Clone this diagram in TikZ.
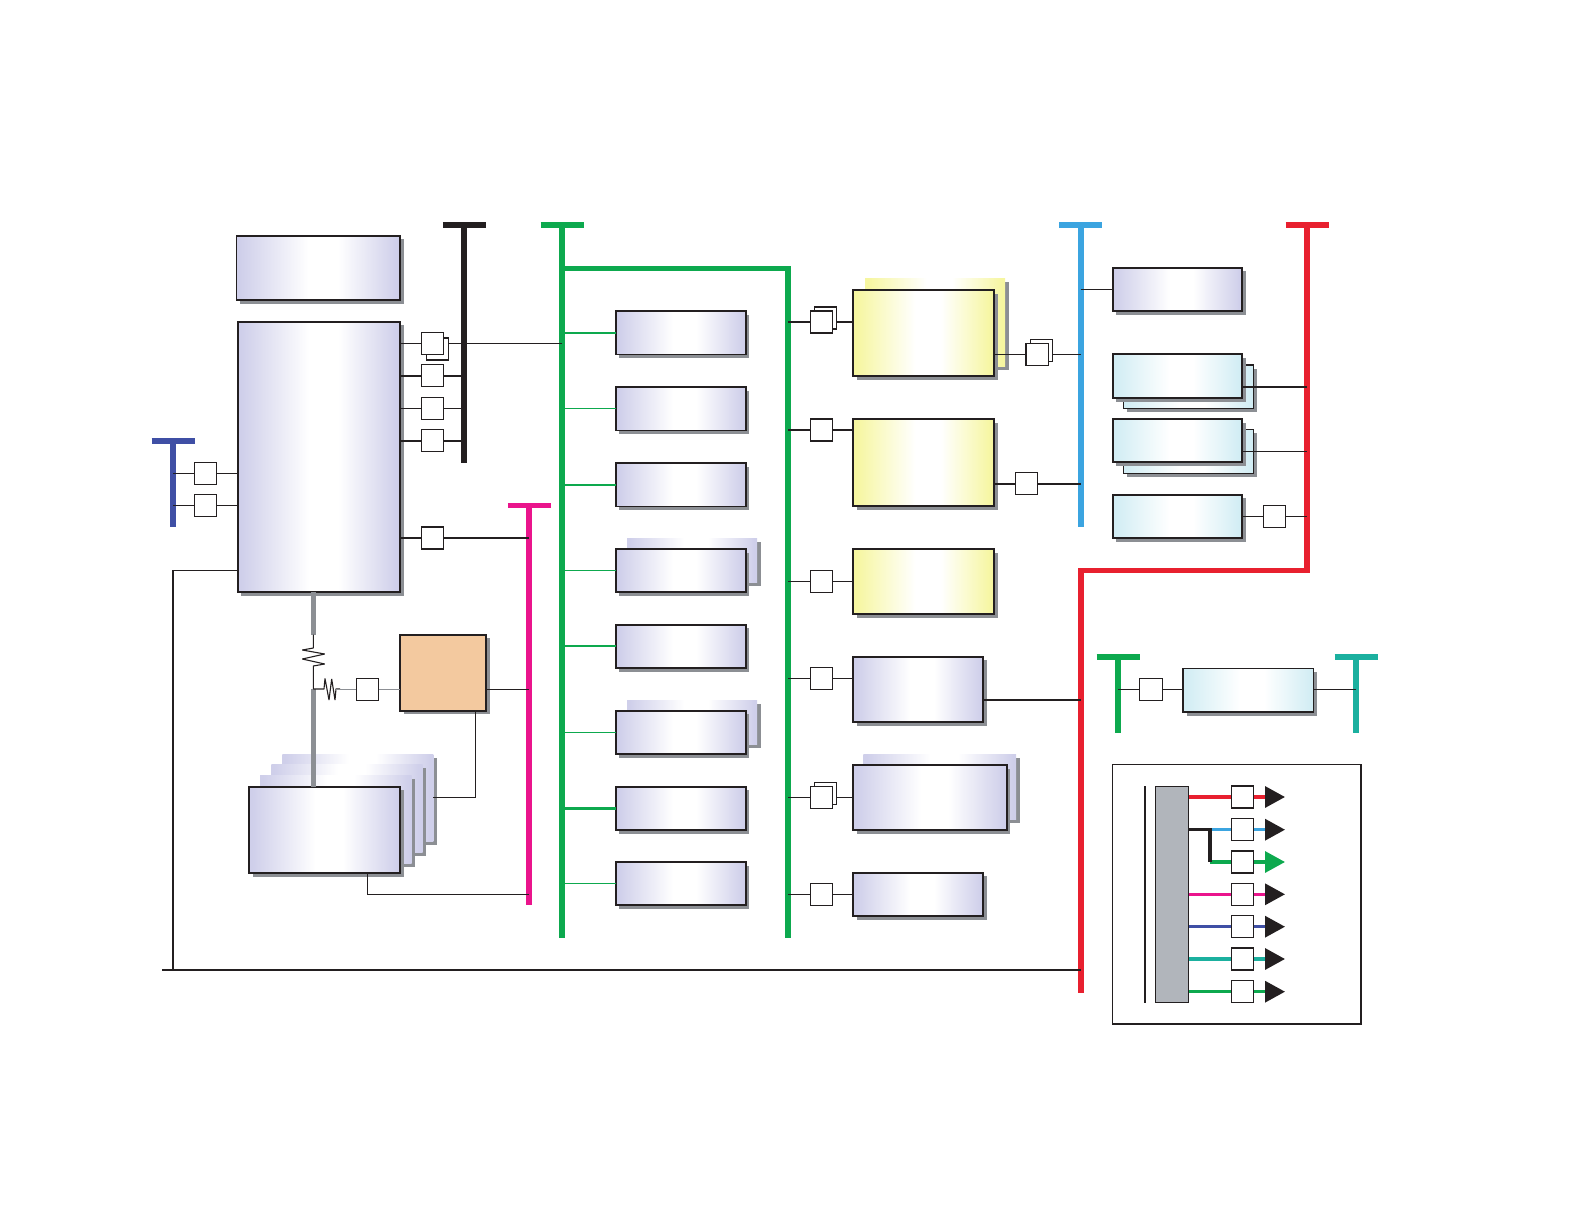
\documentclass[tikz,border=0pt]{standalone}
\usetikzlibrary{arrows.meta}
\definecolor{peri}{HTML}{CFCFEA}
\definecolor{yel}{HTML}{F6F6A0}
\definecolor{cya}{HTML}{D2EDF4}
\definecolor{org}{HTML}{F3C99F}
\definecolor{shc}{HTML}{8C8F94}
\definecolor{ink}{HTML}{231F20}
\definecolor{cred}{HTML}{E8202F}
\definecolor{cgrn}{HTML}{0DA94E}
\definecolor{cblu}{HTML}{3BA4E0}
\definecolor{cmag}{HTML}{EA148C}
\definecolor{cind}{HTML}{3F4FA5}
\definecolor{cteal}{HTML}{1BB09F}
\definecolor{wire}{HTML}{8C8F94}
\definecolor{gbox}{HTML}{B1B5BB}
\pgfdeclarehorizontalshading{periShade}{100bp}{color(0bp)=(peri);color(26bp)=(peri);color(47bp)=(white);color(56bp)=(white);color(74bp)=(peri);color(100bp)=(peri)}
\pgfdeclarehorizontalshading{yelShade}{100bp}{color(0bp)=(yel);color(26bp)=(yel);color(47bp)=(white);color(56bp)=(white);color(74bp)=(yel);color(100bp)=(yel)}
\pgfdeclarehorizontalshading{cyaShade}{100bp}{color(0bp)=(cya);color(26bp)=(cya);color(47bp)=(white);color(56bp)=(white);color(74bp)=(cya);color(100bp)=(cya)}
\tikzset{
  boxbase/.style={inner sep=0pt,outer sep=0pt,rectangle},
  pfront/.style={boxbase,shade,shading=periShade,draw=ink,line width=1.8pt},
  yfront/.style={boxbase,shade,shading=yelShade,draw=ink,line width=1.8pt},
  cfront/.style={boxbase,shade,shading=cyaShade,draw=ink,line width=1.8pt},
  ofront/.style={boxbase,fill=org,draw=ink,line width=1.8pt},
  pback/.style={boxbase,shade,shading=periShade},
  yback/.style={boxbase,shade,shading=yelShade},
  cback/.style={boxbase,shade,shading=cyaShade,draw=ink,line width=1.2pt},
  sbox/.style={boxbase,fill=white,draw=ink,line width=1.2pt,minimum width=22.4pt,minimum height=22pt},
  thin wire/.style={draw=ink,line width=1pt},
  mid wire/.style={draw=ink,line width=1.8pt},
  fat wire/.style={draw=ink,line width=2pt},
  grey wire/.style={draw=wire,line width=4.5pt},
  bus/.style={line width=5.8pt},
  legendline/.style={line width=3.3pt},
  tip/.style={-{Triangle[length=20pt,width=21pt,fill=#1,color=#1]}},
}
% \bx{name}{style}{x1}{y1}{x2}{y2}: a box with its drop shadow
\newcommand{\bx}[6]{%
  \pgfmathsetmacro{\bw}{#5-#3}\pgfmathsetmacro{\bh}{#6-#4}%
  \pgfmathsetmacro{\bcx}{(#5+#3)/2}\pgfmathsetmacro{\bcy}{(#6+#4)/2}%
  \fill[shc] ({#3+3.5},{#4+3.5}) rectangle ({#5+3.5},{#6+3.5});%
  \node[#2,minimum width=\bw pt,minimum height=\bh pt] (#1) at (\bcx,\bcy) {};%
}
% \sbx{name}{cx}{cy}: a small square
\newcommand{\sbx}[3]{\node[sbox] (#1) at (#2,#3) {};}
% \tbus{colour}{name}{x}{ytop}{ybottom}
\newcommand{\tbus}[5]{%
  \coordinate (#2) at (#3,#4);%
  \coordinate (#2b) at (#3,#5);%
  \draw[#1,bus] (#2) -- (#2b);%
  \draw[#1,line width=5.5pt] ({#3-21.5},#4) -- ({#3+21.5},#4);%
}
\begin{document}
\begin{tikzpicture}[x=1pt,y=-1pt]
\useasboundingbox (0,0) rectangle (1588,1220);
% buses
\tbus{cind}{busI}{173}{441}{527}
\tbus{ink}{busK}{464.3}{225}{463}
\tbus{cgrn}{busG}{562}{225}{938}
\tbus{cmag}{busM}{529.3}{505.5}{905}
\tbus{cblu}{busB}{1080.7}{225}{527}
\tbus{cred}{busR}{1307}{225}{573}
\tbus{cgrn}{busF}{1118}{657}{733}
\tbus{cteal}{busT}{1356}{657}{733}
\coordinate (g2t) at (788.3,268.4);
\coordinate (g2b) at (788.3,938);
\draw[cgrn,bus] (busG |- g2t) -- (g2t) -- (g2b);
\coordinate (r2t) at (1080.7,570.5);
\coordinate (r2b) at (1080.7,992.5);
\draw[cred,bus] (busR |- r2t) -- (r2t) -- (r2b);
% left column boxes
\bx{top}{pfront}{236.5}{235.7}{400}{300}
\bx{main}{pfront}{237.7}{321.7}{400}{592}
\bx{layC}{pback}{282.3}{754.3}{433.3}{841.7}
\bx{layB}{pback}{271.3}{764}{422.7}{852}
\bx{layA}{pback}{260}{775}{411.7}{863}
\bx{mem}{pfront}{249}{786.7}{400.3}{873.3}
\bx{orange}{ofront}{400}{634.7}{486.3}{710.7}
% middle column
\bx{m1}{pfront}{615.7}{311}{745.7}{354.5}
\bx{m2}{pfront}{615.7}{387}{745.7}{430.5}
\bx{m3}{pfront}{615.7}{463}{745.7}{506.5}
\bx{m4b}{pback}{627}{538.3}{757}{582.3}
\bx{m4}{pfront}{615.7}{549}{745.7}{592}
\bx{m5}{pfront}{615.7}{624.7}{745.7}{668}
\bx{m6b}{pback}{627}{700}{757}{744}
\bx{m6}{pfront}{615.7}{710.7}{745.7}{754}
\bx{m7}{pfront}{615.7}{786.7}{745.7}{830.3}
\bx{m8}{pfront}{615.7}{862}{745.7}{905.3}
% right-middle column
\bx{y1b}{yback}{865}{278.3}{1005}{366.7}
\bx{y1}{yfront}{853.3}{290}{994.2}{376}
\bx{y2}{yfront}{853.3}{419.3}{994.2}{506.2}
\bx{y3}{yfront}{853.3}{549}{994.2}{614.3}
\bx{p1}{pfront}{853.3}{656.7}{983.3}{722}
\bx{p2b}{pback}{863.3}{754.3}{1016}{819}
\bx{p2}{pfront}{853.3}{765}{1006.7}{830}
\bx{p3}{pfront}{853.3}{872.7}{983.3}{916}
% far right
\bx{r1}{pfront}{1112.6}{267.7}{1242}{311}
\bx{c1b}{cback}{1123.3}{365}{1253.5}{408.3}
\bx{c1}{cfront}{1112.6}{354.3}{1242}{398}
\bx{c2b}{cback}{1123.3}{429.7}{1253.5}{473.3}
\bx{c2}{cfront}{1112.6}{419}{1242}{462.3}
\bx{c3}{cfront}{1112.6}{494.7}{1242}{538}
\bx{c4}{cfront}{1183}{668.4}{1313.5}{712}
% named small squares
\sbx{k1b}{437.5}{349}
\sbx{k1}{432.5}{343.3}
\sbx{k2}{432.5}{375.7}
\sbx{k3}{432.5}{408.3}
\sbx{k4}{432.5}{440.7}
\sbx{k5}{432.5}{538}
\sbx{i1}{205.5}{473.3}
\sbx{i2}{205.5}{505.3}
\sbx{res}{367.5}{689.3}
\sbx{g1b}{825.5}{318}
\sbx{g1}{821.3}{322}
\sbx{g2}{821.3}{430}
\sbx{g3}{821.3}{581.3}
\sbx{g4}{821.3}{678.3}
\sbx{g5b}{825.5}{793.3}
\sbx{g5}{821.3}{797.3}
\sbx{g6}{821.3}{894.3}
\sbx{b1b}{1041.4}{350.3}
\sbx{b1}{1037.2}{354.3}
\sbx{b2}{1026.4}{483.7}
\sbx{cs}{1274.5}{516.3}
\sbx{fs}{1151}{689.5}
% coordinates for the ends of free wires
\coordinate (ln) at (0,570.3);
\coordinate (gnd) at (162,970.2);
\coordinate (gndc) at (173,970.2);
% connections
\draw[thin wire] (main.east |- k1) -- (k1.west);
\draw[thin wire] (k1b.east |- k1) -- (k1 -| busK);
\draw[thin wire] (busK |- k1) -- (busG |- k1);
\draw[fat wire] (main.east |- k2) -- (k2.west);
\draw[fat wire] (k2.east) -- (k2 -| busK);
\draw[thin wire] (main.east |- k3) -- (k3.west);
\draw[thin wire] (k3.east) -- (k3 -| busK);
\draw[fat wire] (main.east |- k4) -- (k4.west);
\draw[fat wire] (k4.east) -- (k4 -| busK);
\draw[mid wire] (main.east |- k5) -- (k5.west);
\draw[mid wire] (k5.east) -- (k5 -| busM);
\draw[thin wire] (busI |- i1) -- (i1.west);
\draw[thin wire] (i1.east) -- (i1 -| main.west);
\draw[thin wire] (busI |- i2) -- (i2.west);
\draw[thin wire] (i2.east) -- (i2 -| main.west);
\draw[mid wire] (gnd) -- (gnd -| r2b);
\draw[draw=ink,line width=1.3pt] (gndc) -- (gndc |- ln) -- (main.west |- ln);
% grey memory link with resistors
\coordinate (gtop) at (313.3,592);
\coordinate (gr1) at (313.3,634.7);
\coordinate (gjn) at (313.3,689);
\draw[grey wire] (gtop) -- (gr1);
\draw[grey wire] (gjn) -- (gjn |- mem.north);
\draw[draw=ink,line width=1.1pt,line join=bevel] (gr1) -- (313.3,648) -- (302.3,650) -- (324.7,654) -- (302.3,659) -- (324.7,664) -- (313.3,666) -- (gjn);
\draw[draw=ink,line width=1.1pt,line join=bevel] (gjn) -- (324,689) -- (325,678.5) -- (329,700) -- (331.7,679) -- (335,700) -- (336,689) -- (340,689);
\coordinate (rw) at (336,689.3);
\draw[draw=wire,line width=1.2pt] (rw) -- (res.west);
\draw[draw=wire,line width=1.2pt] (res.east) -- (res -| orange.west);
\draw[draw=ink,line width=1.2pt] (orange.east |- res) -- (res -| busM);
\draw[draw=ink,line width=1.2pt] (475.7,710.7) -- (475.7,797.3) -- (layC.east |- 0,797.3);
\draw[draw=ink,line width=1.2pt] (367.3,873.3) -- (367.3,894.3) -- (busM |- 0,894.3);
% middle-column stubs
\draw[draw=cgrn,line width=1.6pt] (busG |- m1) -- (m1.west);
\draw[draw=cgrn,line width=1.2pt] (busG |- m2) -- (m2.west);
\draw[draw=cgrn,line width=2.2pt] (busG |- m3) -- (m3.west);
\draw[draw=cgrn,line width=1.2pt] (busG |- m4) -- (m4.west);
\draw[draw=cgrn,line width=2.2pt] (busG |- m5) -- (m5.west);
\draw[draw=cgrn,line width=1.2pt] (busG |- m6) -- (m6.west);
\draw[draw=cgrn,line width=2.2pt] (busG |- m7) -- (m7.west);
\draw[draw=cgrn,line width=1.2pt] (busG |- m8) -- (m8.west);
% right of green bus
\draw[mid wire] (g2t |- g1) -- (g1.west);
\draw[mid wire] (g1b.east |- g1) -- (g1 -| y1.west);
\draw[mid wire] (g2t |- g2) -- (g2.west);
\draw[mid wire] (g2.east) -- (g2 -| y2.west);
\draw[thin wire] (g2t |- g3) -- (g3.west);
\draw[thin wire] (g3.east) -- (g3 -| y3.west);
\draw[thin wire] (g2t |- g4) -- (g4.west);
\draw[thin wire] (g4.east) -- (g4 -| p1.west);
\draw[thin wire] (g2t |- g5) -- (g5.west);
\draw[thin wire] (g5b.east |- g5) -- (g5 -| p2.west);
\draw[thin wire] (g2t |- g6) -- (g6.west);
\draw[thin wire] (g6.east) -- (g6 -| p3.west);
\draw[mid wire] (p1.east |- 0,700) -- (r2t |- 0,700);
\draw[thin wire] (y1.east |- b1) -- (b1.west);
\draw[thin wire] (b1b.east |- b1) -- (b1 -| busB);
\draw[mid wire] (y2.east |- b2) -- (b2.west);
\draw[mid wire] (b2.east) -- (b2 -| busB);
\draw[thin wire] (busB |- r1) -- (r1.west);
\draw[mid wire] (c1.east |- 0,386.7) -- (busR |- 0,386.7);
\draw[thin wire] (c2.east |- 0,451.3) -- (busR |- 0,451.3);
\draw[thin wire] (c3.east |- cs) -- (cs.west);
\draw[thin wire] (cs.east) -- (cs -| busR);
\draw[thin wire] (busF |- fs) -- (fs.west);
\draw[thin wire] (fs.east) -- (fs -| c4.west);
\draw[thin wire] (c4.east |- fs) -- (fs -| busT);
% legend
\node[boxbase,draw=ink,line width=1.3pt,minimum width=248.3pt,minimum height=259.3pt] (legend) at (1236.85,894.35) {};
\coordinate (lt) at (1145,786);
\coordinate (lb) at (1145,1002.7);
\draw[ink,line width=1.2pt] (lt) -- (lb);
\node[boxbase,fill=gbox,draw=ink,line width=1pt,minimum width=33pt,minimum height=215.6pt] (gb) at (1172.2,894.5) {};
\node[boxbase,draw=none,minimum width=0pt,minimum height=0pt] (j) at (1210,829.7) {};
\foreach \n/\yy/\cc/\tc in {a/797/cred/ink,b/829.7/cblu/ink,c/862/cgrn/cgrn,d/894.3/cmag/ink,e/926.7/cind/ink,f/959/cteal/ink,h/991.7/cgrn/ink}{
  \sbx{l\n}{1242.5}{\yy}
  \coordinate (e\n) at (1285,\yy);
  \draw[\cc,legendline,tip=\tc] (l\n.east) -- (e\n);
}
\draw[cred,legendline] (gb.east |- la) -- (la.west);
\draw[cblu,legendline] (j) -- (lb.west);
\draw[cgrn,legendline] (j |- lc) -- (lc.west);
\draw[cmag,legendline] (gb.east |- ld) -- (ld.west);
\draw[cind,legendline] (gb.east |- le) -- (le.west);
\draw[cteal,legendline] (gb.east |- lf) -- (lf.west);
\draw[cgrn,legendline] (gb.east |- lh) -- (lh.west);
\draw[ink,line width=3.4pt] (gb.east |- j) -- (j.center) -- (j |- lc);
\end{tikzpicture}
\end{document}
